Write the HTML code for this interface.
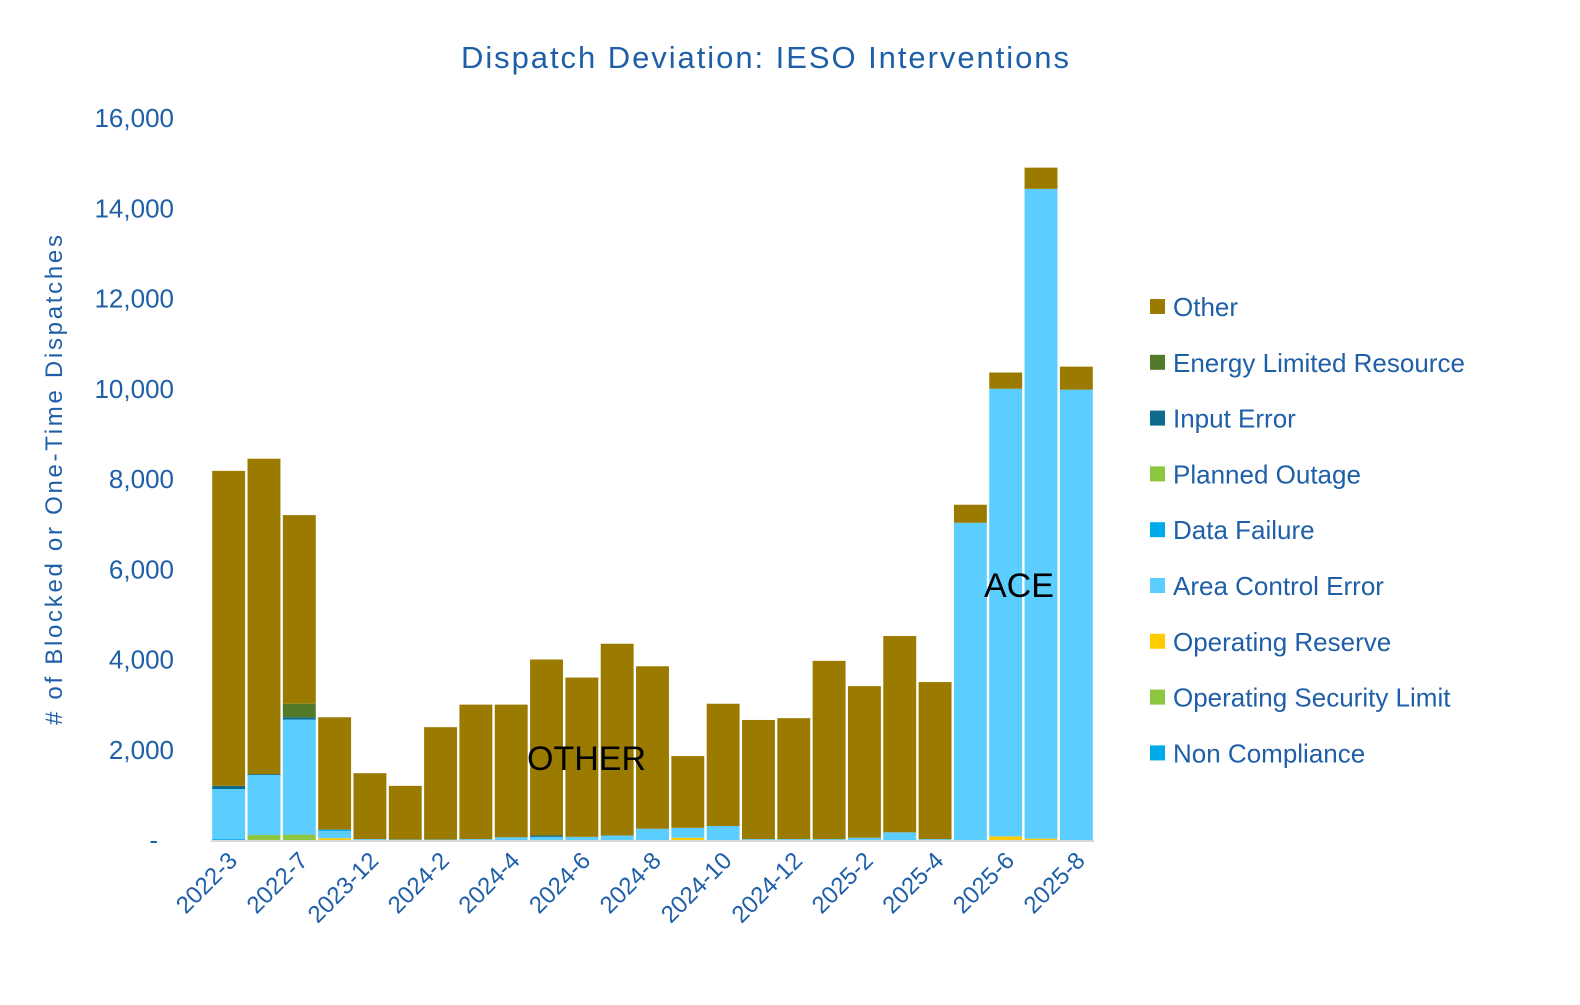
<!DOCTYPE html>
<html><head><meta charset="utf-8"><style>
body{margin:0;background:#fff;font-family:"Liberation Sans",sans-serif}
svg text{font-family:"Liberation Sans",sans-serif}
</style></head><body>
<svg id="chart" width="1580" height="1000" xmlns="http://www.w3.org/2000/svg">
<text x="765" y="68" text-anchor="middle" font-size="31" fill="#1f5fa8" textLength="608">Dispatch Deviation: IESO Interventions</text>
<text transform="translate(62,480) rotate(-90)" text-anchor="middle" font-size="24" fill="#1f5fa8" textLength="490"># of Blocked or One-Time Dispatches</text>
<g id="grid"></g><g id="bars"></g><g id="axes"></g><g id="legend"></g>
<text x="527" y="770" font-size="34" fill="#000">OTHER</text>
<text x="984" y="597" font-size="34" fill="#000">ACE</text>
</svg>
<script>
const categories=["2022-3","2022-5","2022-7","2023-11","2023-12","2024-1","2024-2","2024-3","2024-4","2024-5","2024-6","2024-7","2024-8","2024-9","2024-10","2024-11","2024-12","2025-1","2025-2","2025-3","2025-4","2025-5","2025-6","2025-7","2025-8"];
const plannedOutage=[0,110,120,0,0,0,0,0,0,0,0,0,0,0,0,0,0,0,0,0,0,0,0,0,0];
const nonCompliance=[20,0,0,0,0,0,0,0,0,0,0,0,0,0,0,0,0,0,0,0,0,0,0,0,0];
const opSecurity=[0,0,0,0,0,0,0,0,0,0,0,0,0,0,0,0,0,0,0,0,0,0,0,0,0];
const opReserve=[0,0,0,40,0,0,0,0,0,0,0,0,0,50,0,0,0,0,0,0,0,0,80,30,0];
const ace=[1110,1330,2550,160,20,10,10,20,60,60,70,100,250,220,310,20,20,20,50,170,20,7030,9920,14400,9980];
const dataFailure=[0,0,0,30,0,0,0,0,0,10,0,0,0,0,0,0,0,0,0,0,0,0,0,0,0];
const inputError=[70,20,50,0,0,0,0,0,0,30,0,0,0,0,0,0,0,0,0,0,0,0,0,0,0];
const energyLimited=[0,0,300,0,0,0,0,0,0,0,0,0,0,0,0,0,0,0,0,0,0,0,0,0,0];
const other=[6980,6990,4180,2490,1460,1190,2490,2980,2940,3900,3530,4250,3600,1590,2710,2640,2680,3950,3360,4350,3480,400,360,470,510];
const yTicks=[0,2000,4000,6000,8000,10000,12000,14000,16000];
const series=[
 ["Planned Outage",plannedOutage,"#8dc63f"],
 ["Non Compliance",nonCompliance,"#00a9e8"],
 ["Operating Security Limit",opSecurity,"#8dc63f"],
 ["Operating Reserve",opReserve,"#ffcc00"],
 ["Area Control Error",ace,"#5bcdff"],
 ["Data Failure",dataFailure,"#00a9e8"],
 ["Input Error",inputError,"#0e6b8c"],
 ["Energy Limited Resource",energyLimited,"#527a2a"],
 ["Other",other,"#9a7b00"]];
const NS="http://www.w3.org/2000/svg";
const x0=211,x1=1094,y0=840,yTop=118;
const y=v=>y0-(v/16000)*(y0-yTop);
const step=(x1-x0)/categories.length;
const xc=i=>x0+step*(i+0.5);
function mk(t,a,p){const e=document.createElementNS(NS,t);for(const k in a)e.setAttribute(k,a[k]);p.appendChild(e);return e;}
const bars=document.getElementById('bars'),axes=document.getElementById('axes'),legend=document.getElementById('legend');
categories.forEach((c,i)=>{let acc=0;series.forEach(s=>{const v=s[1][i];if(v>0){
 const r=mk('rect',{x:xc(i)-step/2+1.2,width:step-2.4,y:y(acc+v),height:y(acc)-y(acc+v),fill:s[2]},bars);
 
 }acc+=v;});
 if(i%2===0){const t=mk('text',{transform:`translate(${xc(i)+10},${y0+22}) rotate(-45)`,'text-anchor':'end','font-size':24,fill:'#1f5fa8'},axes);t.textContent=c;
 
 }
});
const ax=mk('line',{x1:x0,x2:x1,y1:y0+1,y2:y0+1,stroke:'#d9d9d9','stroke-width':2},axes);


yTicks.forEach(v=>{const t=mk('text',{x:v===0?158:174,y:y(v)+9,'text-anchor':'end','font-size':26,fill:'#1f5fa8'},axes);t.textContent=v===0?'-':v.toLocaleString('en-US');
 
 });
const order=["Other","Energy Limited Resource","Input Error","Planned Outage","Data Failure","Area Control Error","Operating Reserve","Operating Security Limit","Non Compliance"];
order.forEach((n,k)=>{const s=series.find(q=>q[0]===n);const ly=307+k*55.8;
 const g=mk('g',{},legend);
 
 
 mk('rect',{x:1150,y:ly-8,width:15,height:15,fill:s[2]},g);
 const t=mk('text',{x:1173,y:ly+9,'font-size':26,fill:'#1f5fa8'},g);t.textContent=n;});
</script>
</body></html>
